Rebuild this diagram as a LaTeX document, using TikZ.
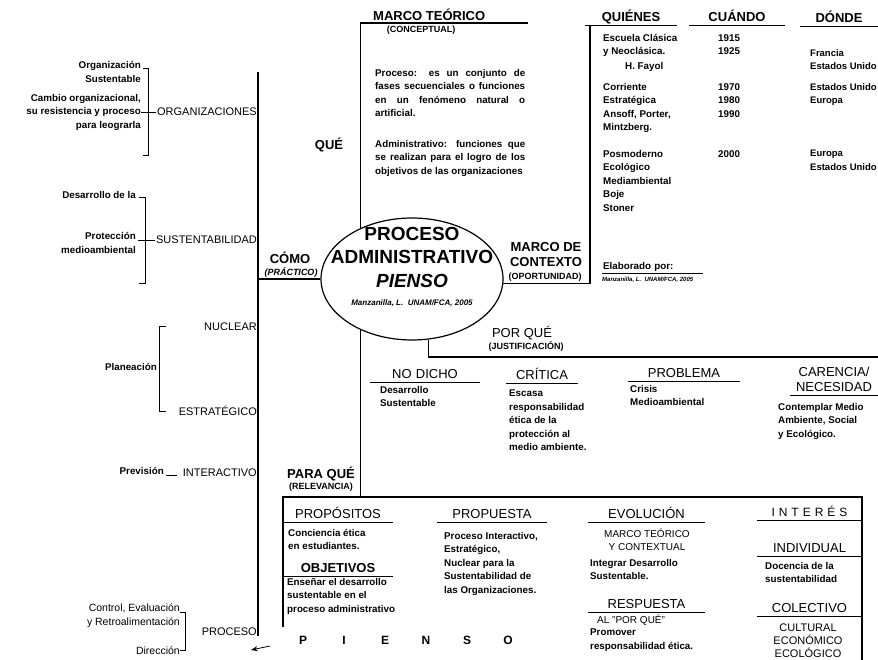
\documentclass[tikz,border=0pt]{standalone}
\usepackage{fontspec}
\setmainfont{Liberation Sans}
\usepackage{tikz}
\usetikzlibrary{shapes.geometric,arrows.meta,positioning}

\begin{document}
\begin{tikzpicture}[
    x=1pt, y=-1pt,
    >=Stealth,
    rule/.style={line width=1.2pt},
    thinrule/.style={line width=0.8pt},
    core/.style={
        draw,
        ellipse,
        line width=1.2pt,
        minimum width=182pt,
        minimum height=122pt
    },
    coretitle/.style={
        font=\fontsize{19}{23.5}\selectfont\bfseries,
        align=center,
        inner sep=0pt
    },
    credit/.style={
        font=\fontsize{8}{9}\selectfont\bfseries\itshape,
        inner sep=0pt
    },
    ttl/.style={
        font=\fontsize{13}{15}\selectfont\bfseries,
        align=center,
        inner sep=1pt
    },
    sub/.style={
        font=\fontsize{9}{10}\selectfont\bfseries,
        inner sep=0pt
    },
    lbl/.style={
        font=\fontsize{11}{12}\selectfont,
        inner sep=1pt,
        anchor=east
    },
    hdr/.style={
        font=\fontsize{13}{15}\selectfont,
        text width=#1pt,
        align=center,
        anchor=south,
        inner xsep=0pt,
        inner ysep=3pt,
        text depth=0pt
    },
    thdr/.style={
        hdr=#1,
        font=\fontsize{13}{15}\selectfont\bfseries
    },
    note/.style={
        font=\fontsize{9.8}{13.5}\selectfont\bfseries,
        align=left,
        inner sep=0pt,
        anchor=north west
    },
    lnote/.style={
        note,
        align=right,
        anchor=east
    },
    rnote/.style={
        lnote,
        font=\fontsize{10.5}{14}\selectfont
    },
    caps/.style={
        font=\fontsize{10}{13}\selectfont,
        align=center,
        inner sep=0pt
    }
]
\useasboundingbox (0,0) rectangle (878,660);
\clip (0,0) rectangle (878,660);

% spine on the left
\coordinate (sp-top) at (258,72);
\coordinate (sp-bot) at (258,636);
\draw[rule] (sp-top) -- (sp-bot);

% central ellipse
\node[core] (core) at (412,279) {};
\node[coretitle] (coretitle) at (412,257) {PROCESO\\ADMINISTRATIVO\\\textit{PIENSO}};
\node[credit] (corecredit) at (412,303) {Manzanilla, L.\ \ UNAM/FCA, 2005};

% que: marco teorico
\coordinate (mt-end) at (528,23);
\draw[rule] (core.135) |- (mt-end);
\node[ttl] (que) at (329,145) {QUÉ};
\node[ttl, anchor=south west] (mteo) at (372,22) {MARCO TEÓRICO};
\node[sub] (concep) at (421,30) {(CONCEPTUAL)};
\node[note] (procdef) at (375,69)
{\makebox[150pt][s]{Proceso: es un conjunto de}\\
\makebox[150pt][s]{fases secuenciales o funciones}\\
\makebox[150pt][s]{en un fenómeno natural o}\\
artificial.};
\node[note] (admdef) at (375,140)
{\makebox[150pt][s]{Administrativo: funciones que}\\
\makebox[150pt][s]{se realizan para el logro de los}\\
objetivos de las organizaciones};

% marco de contexto
\coordinate (ctx-top) at (590,25);
\draw[rule] (core.-3) -| (ctx-top);
\node[ttl] (ctx) at (546,255) {MARCO DE\\CONTEXTO};
\node[sub] (oport) at (545,277) {(OPORTUNIDAD)};

\node[thdr=91] (quienes) at (631,25) {QUIÉNES};
\node[thdr=95] (cuando) at (737,25) {CUÁNDO};
\node[thdr=78] (donde) at (839,26) {DÓNDE};

\node[note] (q1) at (603,34) {Escuela Clásica\\y Neoclásica.};
\node[note] (q2) at (625,62) {H. Fayol};
\node[note] (q3) at (603,83) {Corriente\\Estratégica\\Ansoff, Porter,\\Mintzberg.};
\node[note] (q4) at (603,150) {Posmoderno\\Ecológico\\Mediambiental\\Boje\\Stoner};

\node[note] (c1) at (718,34) {1915\\1925};
\node[note] (c2) at (718,83) {1970\\1980\\1990};
\node[note] (c3) at (718,150) {2000};

\node[note, font=\fontsize{9.5}{13.5}\selectfont\bfseries] (d1) at (810,49) {Francia\\Estados Unido};
\node[note, font=\fontsize{9.5}{13.5}\selectfont\bfseries] (d2) at (810,83) {Estados Unido\\Europa};
\node[note, font=\fontsize{9.5}{13.5}\selectfont\bfseries] (d3) at (810,150) {Europa\\Estados Unido};

\node[note, text width=99pt, anchor=south west, inner sep=1pt] (elab) at (602,273) {Elaborado por:};
\node[credit, font=\fontsize{6}{7}\selectfont\bfseries\itshape, anchor=north west] (elabcredit) at (602,277) {Manzanilla, L.\ \ UNAM/FCA, 2005};

% como
\draw[rule] (core.west) -- (core.west -| sp-top);
\node[ttl] (como) at (290,258) {CÓMO};
\node[sub, font=\fontsize{9}{10}\selectfont\bfseries\itshape] (practico) at (291,272) {(PRÁCTICO)};

% left side: organizaciones
\node[lbl] (org) at (258,112) {ORGANIZACIONES};
\node[lnote] (orgsus) at (141,72) {Organización\\Sustentable};
\node[lnote] (orgcam) at (141,112) {Cambio organizacional,\\su resistencia y proceso\\para leograrla};
\coordinate (org-bt) at (148,68);
\coordinate (org-bb) at (148,155);
\draw[thinrule] ([xshift=-5pt]org-bt) -- (org-bt) -- (org-bb) -- ([xshift=-5pt]org-bb);
\draw[thinrule] (orgcam.east) -- (org.west);

% left side: sustentabilidad
\node[lbl] (sust) at (258,240) {SUSTENTABILIDAD};
\node[lnote] (desa) at (136,195) {Desarrollo de la};
\node[lnote] (prot) at (136,243) {Protección\\medioambiental};
\coordinate (sus-bt) at (145,197);
\coordinate (sus-bb) at (145,283);
\draw[thinrule] ([xshift=-6pt]sus-bt) -- (sus-bt) -- (sus-bb) -- ([xshift=-6pt]sus-bb);
\draw[thinrule] ([xshift=2pt]prot.east |- sust.west) -- (sust.west);

% left side: planeacion
\node[lbl] (nuclear) at (258,327) {NUCLEAR};
\node[lbl] (estrat) at (258,411) {ESTRATÉGICO};
\node[lnote] (plan) at (157,367) {Planeación};
\coordinate (pl-bt) at (159,326);
\coordinate (pl-bb) at (159,411);
\draw[thinrule] ([xshift=7pt]pl-bt) -- (pl-bt) -- (pl-bb) -- ([xshift=7pt]pl-bb);

% left side: prevision
\node[lbl] (inter) at (258,473) {INTERACTIVO};
\node[lnote] (prev) at (164,471) {Previsión};
\draw[thinrule, shorten <=2pt, shorten >=5pt] ([yshift=-4pt]prev.east) -- ([yshift=-4pt]prev.east -| inter.west);

% left side: proceso
\node[lbl] (proc) at (258,632) {PROCESO};
\node[rnote] (ctrl) at (180,616) {Control, Evaluación\\y Retroalimentación};
\node[rnote] (direc) at (180,651) {Dirección};
\coordinate (pr-bt) at (185,612);
\coordinate (pr-bb) at (185,650);
\draw[thinrule] ([xshift=-5pt]pr-bt) -- (pr-bt) -- (pr-bb) -- ([xshift=-5pt]pr-bb);

% por que
\coordinate (pq-end) at (878,357);
\draw[rule] (core.-75) |- (pq-end);
\node[lbl, anchor=center, font=\fontsize{13}{15}\selectfont] (porque) at (522,333) {POR QUÉ};
\node[sub] (justif) at (526,346) {(JUSTIFICACIÓN)};

\node[hdr=110] (nodicho) at (425,382) {NO DICHO};
\node[hdr=71] (critica) at (542,383) {CRÍTICA};
\node[hdr=112] (problema) at (684,381) {PROBLEMA};
\node[hdr=88, text depth=15pt] (carencia) at (834,395) {CARENCIA/\\NECESIDAD};

\node[note] (nodichotxt) at (380,386) {Desarrollo\\Sustentable};
\node[note] (criticatxt) at (509,390) {Escasa\\responsabilidad\\ética de la\\protección al\\medio ambiente.};
\node[note] (problematxt) at (630,385) {Crisis\\Medioambiental};
\node[note] (carenciatxt) at (778,403) {Contemplar Medio\\Ambiente, Social\\y Ecológico.};

% para que
\coordinate (box-bl) at (283,627);
\coordinate (box-tr) at (862,497);
\coordinate (box-br) at (862,660);
\draw[rule] (box-bl) |- (box-tr) -- (box-br);
\draw[rule] (core.225) -- (core.225 |- box-tr);
\node[ttl] (paraque) at (321,474) {PARA QUÉ};
\node[sub] (relev) at (321,487) {(RELEVANCIA)};

\node[hdr=110] (propositos) at (338,522) {PROPÓSITOS};
\node[thdr=110] (objetivos) at (338,576) {OBJETIVOS};
\node[hdr=110] (propuesta) at (492,522) {PROPUESTA};
\node[hdr=117] (evolucion) at (646.5,522) {EVOLUCIÓN};
\node[hdr=117] (respuesta) at (646.5,612) {RESPUESTA};
\node[hdr=105, font=\fontsize{12}{14}\selectfont\addfontfeature{LetterSpace=16}] (interes) at (809.5,520) {I N T E R É S};
\node[hdr=105] (individual) at (809.5,556) {INDIVIDUAL};
\node[hdr=105] (colectivo) at (809.5,616) {COLECTIVO};

\node[note] (propotxt) at (288,529) {Conciencia ética\\en estudiantes.};
\node[note] (objtxt) at (287,578) {Enseñar el desarrollo\\sustentable en el\\proceso administrativo};
\node[note] (propuestatxt) at (444,532) {Proceso Interactivo,\\Estratégico,\\Nuclear para la\\Sustentabilidad de\\las Organizaciones.};
\node[caps] (evomarco) at (647,540) {MARCO TEÓRICO\\Y CONTEXTUAL};
\node[note] (evotxt) at (590,559) {Integrar Desarrollo\\Sustentable.};
\node[caps, anchor=west] (alporque) at (597,620) {AL "POR QUÉ"};
\node[note] (resptxt) at (590,629) {Promover\\responsabilidad ética.};
\node[note] (indivtxt) at (765,562) {Docencia de la\\sustentabilidad};
\node[caps, font=\fontsize{11}{13}\selectfont, anchor=north] (colectxt) at (808,624) {CULTURAL\\ECONÓMICO\\ECOLÓGICO};

% pienso along the bottom
\foreach \ch [count=\i] in {P,I,E,N,S,O}
    \node[font=\fontsize{12}{14}\selectfont\bfseries] (pienso-\i) at ({262+41*\i},640) {\ch};

\coordinate (arr-tail) at (270,646);
\coordinate (arr-tip) at (251,650);
\draw[thinrule, ->] (arr-tail) -- (arr-tip);

% underlines
\foreach \n in {quienes,cuando,donde,elab,nodicho,critica,problema,carencia,
    propositos,objetivos,propuesta,evolucion,respuesta,interes,individual,colectivo}
    \draw[thinrule] (\n.south west) -- (\n.south east);

\end{tikzpicture}
\end{document}
